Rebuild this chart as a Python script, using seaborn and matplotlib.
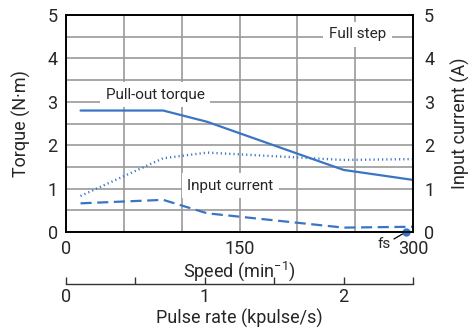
import numpy as np
import pandas as pd
import seaborn as sns
import matplotlib.pyplot as plt

# values
speed = [12.5, 84, 122, 240, 300]
pullout_torque = [2.8, 2.8, 2.54, 1.43, 1.2]
current_full = [0.83, 1.70, 1.83, 1.66, 1.68]
current_dash = [0.66, 0.74, 0.43, 0.10, 0.12]
fs_speed = 294

x_ticks = [0, 50, 100, 150, 200, 250, 300]
x_labels = ['0', '', '', '150', '', '', '300']
y_ticks = [0, 0.5, 1, 1.5, 2, 2.5, 3, 3.5, 4, 4.5, 5]
y_labels = ['0', '', '1', '', '2', '', '3', '', '4', '', '5']
pulse_ticks = [0, 1, 2]
pulse_minor = [0.5, 1.5, 2.5]

sns.set_style('white')
plt.rcParams['font.family'] = ['Roboto', 'DejaVu Sans']
plt.rcParams['mathtext.fontset'] = 'custom'
plt.rcParams['mathtext.rm'] = 'Roboto'
plt.rcParams['mathtext.it'] = 'Roboto'

blue = '#3a75c4'

df = pd.DataFrame({'speed': speed, 'torque': pullout_torque,
                   'cur': current_full, 'cur2': current_dash})

fig = plt.figure(figsize=(4.72, 3.29), dpi=100)
ax = fig.add_axes([0.140, 0.295, 0.735, 0.659])

sns.lineplot(data=df, x='speed', y='torque', ax=ax, color=blue, lw=1.6)
sns.lineplot(data=df, x='speed', y='cur', ax=ax, color=blue, lw=1.7, linestyle=(0, (0.5, 1.3)))
sns.lineplot(data=df, x='speed', y='cur2', ax=ax, color=blue, lw=1.6, linestyle=(0, (5, 2.5)))

ax.set_xlim(0, 300)
ax.set_ylim(0, 5)
ax.set_xticks(x_ticks)
ax.set_xticklabels(x_labels)
ax.set_yticks(y_ticks)
ax.set_yticklabels(y_labels)
ax.tick_params(length=0, labelsize=13, pad=6)
ax.grid(True, color='#9a9a9a', lw=1.2)
ax.set_axisbelow(True)
for s in ax.spines.values():
    s.set_color('black')
    s.set_linewidth(1.2)
ax.set_xlabel('Speed (min$^{-1}$)', fontsize=13, labelpad=1)
ax.set_ylabel('Torque (N·m)', fontsize=13, labelpad=12)

box = dict(facecolor='white', edgecolor='none', pad=4)
ax.text(77, 3.16, 'Pull-out torque', ha='center', va='center', fontsize=11, bbox=box)
ax.text(142, 1.06, 'Input current', ha='center', va='center', fontsize=11, bbox=box)
ax.text(252, 4.56, 'Full step', ha='center', va='center', fontsize=11, bbox=box)

ax.plot(fs_speed, 0, 'o', color=blue, ms=5, clip_on=False, zorder=6)
ax.annotate('fs', xy=(fs_speed, 0), xytext=(275, -0.27), ha='center', va='center',
            fontsize=11, annotation_clip=False, zorder=5,
            arrowprops=dict(arrowstyle='-', color='black', lw=0.9, shrinkA=0, shrinkB=0,
                            relpos=(1.0, 0.7), clip_on=False))

ax_r = ax.twinx()
ax_r.set_ylim(0, 5)
ax_r.set_yticks([0, 1, 2, 3, 4, 5])
ax_r.tick_params(length=0, labelsize=13, pad=8)
ax_r.set_ylabel('Input current (A)', fontsize=13, labelpad=12)
for s in ax_r.spines.values():
    s.set_color('black')
    s.set_linewidth(1.2)

# pulse rate axis, 300 min^-1 = 2.5 kpulse/s
sec = ax.secondary_xaxis(-0.24, functions=(lambda s: s / 120, lambda p: p * 120))
sec.set_xticks(pulse_ticks)
sec.set_xticks(pulse_minor, minor=True)
sec.tick_params(which='both', direction='in', length=5, width=1, labelsize=13, pad=3, color='#333333')
sec.spines['bottom'].set_color('#333333')
sec.spines['bottom'].set_linewidth(1)
sec.set_xlabel('Pulse rate (kpulse/s)', fontsize=13, labelpad=2)

fig.savefig('out.png', dpi=100)
